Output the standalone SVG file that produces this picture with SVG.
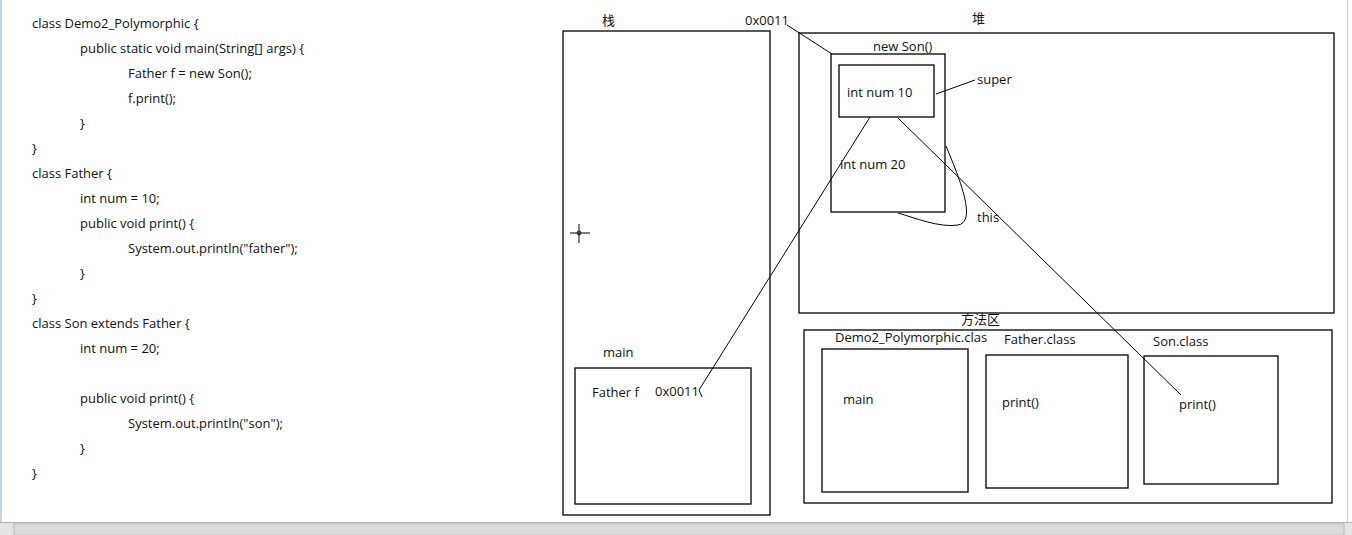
<svg xmlns="http://www.w3.org/2000/svg" width="1352" height="535" viewBox="0 0 1352 535">
<style>
text{font-family:"Open Sans","Liberation Sans",sans-serif;font-size:13px;fill:#111}
.cjk{font-family:"Noto Sans CJK SC",sans-serif;font-size:13px}
.box{fill:none;stroke:#000;stroke-width:1.3}
.ln{fill:none;stroke:#000;stroke-width:1}
</style>
<rect width="1352" height="535" fill="#fff"/>
<rect x="0" y="0" width="2" height="522" fill="#c8d4e6"/>
<g id="code">
<text x="32" y="28">class Demo2_Polymorphic {</text>
<text x="80" y="53">public static void main(String[] args) {</text>
<text x="128" y="78">Father f = new Son();</text>
<text x="128" y="103">f.print();</text>
<text x="80" y="128">}</text>
<text x="32" y="153">}</text>
<text x="32" y="178">class Father {</text>
<text x="80" y="203">int num = 10;</text>
<text x="80" y="228">public void print() {</text>
<text x="128" y="253">System.out.println("father");</text>
<text x="80" y="278">}</text>
<text x="32" y="303">}</text>
<text x="32" y="328">class Son extends Father {</text>
<text x="80" y="353">int num = 20;</text>
<text x="80" y="403">public void print() {</text>
<text x="128" y="428">System.out.println("son");</text>
<text x="80" y="453">}</text>
<text x="32" y="478">}</text>
</g>
<g id="stack">
<rect class="box" x="563" y="31" width="207" height="484"/>
<text class="cjk" x="602" y="25">栈</text>
<g stroke="#000" stroke-width="1"><line x1="570" y1="233" x2="590" y2="233"/><line x1="579" y1="224" x2="579" y2="243"/></g>
<circle cx="579" cy="233" r="2" fill="none" stroke="#000" stroke-width="0.8"/>
</g>
<g id="main-frame">
<text x="603" y="357">main</text>
<rect class="box" x="575" y="368" width="176" height="136"/>
<text x="592" y="397">Father f</text>
<text x="655" y="396">0x0011</text>
</g>
<g id="heap">
<rect class="box" x="799" y="33" width="535" height="280"/>
<text class="cjk" x="972" y="23">堆</text>
<text x="745" y="25">0x0011</text>
</g>
<g id="son-object">
<text x="873" y="51">new Son()</text>
<rect class="box" x="831" y="54" width="114" height="158"/>
<rect class="box" x="839" y="65" width="95" height="52"/>
<text x="847" y="97">int num 10</text>
<text x="840" y="169">int num 20</text>
<text x="977" y="84">super</text>
<text x="977" y="222">this</text>
</g>
<g id="method-area">
<text class="cjk" x="961" y="324" font-size="12.5">方法区</text>
<rect class="box" x="804" y="330" width="528" height="173"/>
</g>
<g id="demo2-class">
<text x="835" y="342">Demo2_Polymorphic.clas</text>
<rect class="box" x="822" y="349" width="146" height="143"/>
<text x="843" y="404">main</text>
</g>
<g id="father-class">
<text x="1004" y="344">Father.class</text>
<rect class="box" x="986" y="355" width="142" height="133"/>
<text x="1002" y="407">print()</text>
</g>
<g id="son-class">
<text x="1153" y="346">Son.class</text>
<rect class="box" x="1144" y="356" width="134" height="128"/>
<text x="1179" y="409">print()</text>
</g>
<g id="connectors">
<polyline class="ln" points="787,25 832,54"/>
<line class="ln" x1="936" y1="94" x2="975" y2="80"/>
<polyline class="ln" points="870,117 699,390 702,397"/>
<line class="ln" x1="898" y1="118" x2="1181" y2="395"/>
<path class="ln" d="M946,146 C958,175 978,222 958,225 C940,228 915,218 898,213"/>
</g>
<g id="scrollbar">
<rect x="0" y="522" width="1352" height="13" fill="#e4e4e4"/>
<line x1="0" y1="522.5" x2="1352" y2="522.5" stroke="#b0b0b0"/>
<rect x="14" y="524" width="1330" height="11" fill="#dcdcdc" stroke="#bcbcbc"/>
<line x1="1347.5" y1="0" x2="1347.5" y2="522" stroke="#d0d0d0"/>
</g>
</svg>
